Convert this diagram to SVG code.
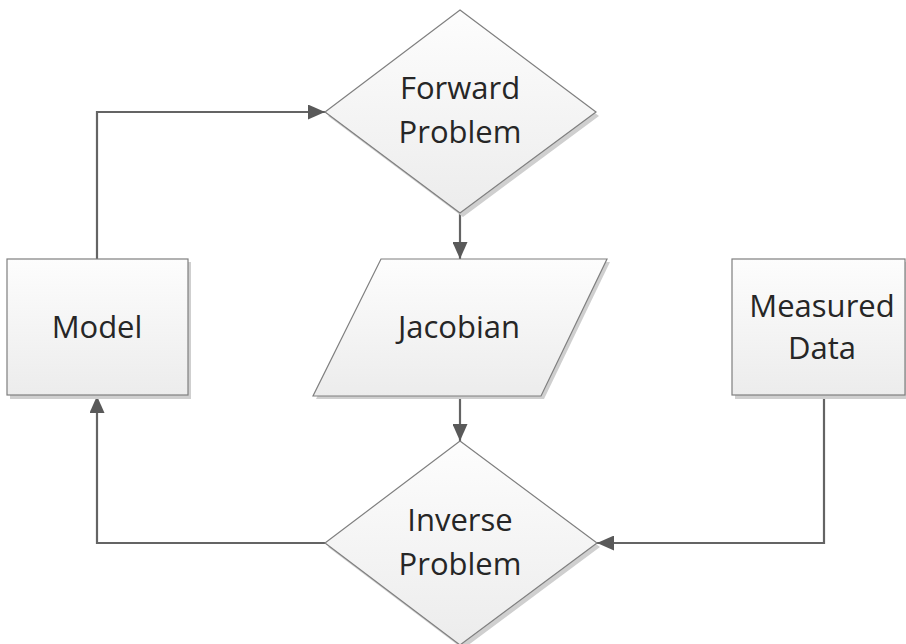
<svg xmlns="http://www.w3.org/2000/svg" width="906" height="644" viewBox="0 0 906 644">
  <style>
    .shape { fill: url(#g); stroke: #7f7f7f; stroke-width: 1.2; }
    .shadow { fill: #cfcfcf; }
    .label { font-family: "Open Sans", "Noto Sans", sans-serif; font-size: 31px; fill: #262626; text-anchor: middle; }
    .conn { fill: none; stroke: #646464; stroke-width: 2.2; marker-end: url(#arrow); }
  </style>
  <defs>
    <linearGradient id="g" x1="0" y1="0" x2="0" y2="1">
      <stop offset="0" stop-color="#fdfdfd"/>
      <stop offset="1" stop-color="#ececec"/>
    </linearGradient>
    <marker id="arrow" markerUnits="userSpaceOnUse" markerWidth="17" markerHeight="15" refX="17" refY="7.5" orient="auto">
      <path d="M0,0 L17,7.5 L0,15 z" fill="#595959"/>
    </marker>
  </defs>
  <rect width="906" height="644" fill="#ffffff"/>

  <g id="connectors">
    <path class="conn" d="M97,259 L97,112 L325,112"/>
    <path class="conn" d="M460,213 L460,259"/>
    <path class="conn" d="M460,396 L460,441"/>
    <path class="conn" d="M325,543 L97,543 L97,396"/>
    <path class="conn" d="M824,396 L824,543 L597,543"/>
  </g>

  <g id="model">
    <rect class="shadow" x="10" y="262" width="181" height="137"/>
    <rect class="shape" x="7" y="259" width="181" height="136"/>
    <text class="label" x="97" y="338">Model</text>
  </g>

  <g id="forward-problem">
    <polygon class="shadow" points="463,14 599,116 463,217 328,116"/>
    <polygon class="shape" points="460,10 596,112 460,213 325,112"/>
    <text class="label" x="460" y="99">Forward</text>
    <text class="label" x="460" y="143">Problem</text>
  </g>

  <g id="jacobian">
    <polygon class="shadow" points="384,262 610,262 544,399 316,399"/>
    <polygon class="shape" points="381,259 607,259 541,396 313,396"/>
    <text class="label" x="459" y="338">Jacobian</text>
  </g>

  <g id="measured-data">
    <rect class="shadow" x="735" y="262" width="175" height="137"/>
    <rect class="shape" x="732" y="259" width="173" height="136"/>
    <text class="label" x="822" y="317">Measured</text>
    <text class="label" x="822" y="359">Data</text>
  </g>

  <g id="inverse-problem">
    <polygon class="shadow" points="463,445 600,547 463,649 328,547"/>
    <polygon class="shape" points="460,441 597,543 460,645 325,543"/>
    <text class="label" x="460" y="531">Inverse</text>
    <text class="label" x="460" y="575">Problem</text>
  </g>
</svg>
